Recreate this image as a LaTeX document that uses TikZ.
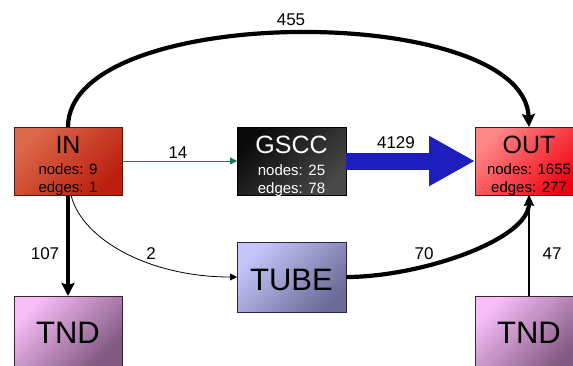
\documentclass[tikz,border=0pt]{standalone}
\usepackage{fontspec}
\setmainfont{Liberation Sans}
\usetikzlibrary{arrows.meta}

\definecolor{inA}{RGB}{220,104,74}
\definecolor{inB}{RGB}{188,30,14}
\definecolor{inE}{RGB}{90,20,10}
\definecolor{gsA}{RGB}{10,10,10}
\definecolor{gsB}{RGB}{72,72,72}
\definecolor{outA}{RGB}{255,135,135}
\definecolor{outB}{RGB}{242,0,15}
\definecolor{outE}{RGB}{110,10,10}
\definecolor{tubeA}{RGB}{198,198,252}
\definecolor{tubeB}{RGB}{108,108,152}
\definecolor{tubeE}{RGB}{40,40,70}
\definecolor{tndA}{RGB}{248,190,248}
\definecolor{tndB}{RGB}{128,88,128}
\definecolor{tndE}{RGB}{60,35,60}
\definecolor{edgeGreen}{RGB}{20,120,80}
\definecolor{edgeBlue}{RGB}{30,30,190}

\begin{document}
\begin{tikzpicture}[x=1pt,y=-1pt,
  box/.style={draw, line width=0.8pt, inner sep=0pt, outer sep=0pt,
              minimum width=108pt, minimum height=68pt},
  grad/.style 2 args={top color=#1, bottom color=#2, shading angle=45},
  bigtxt/.style={font=\fontsize{25}{25}\selectfont, anchor=base, inner sep=0pt},
  hugetxt/.style={font=\fontsize{31}{31}\selectfont, anchor=base, inner sep=0pt},
  smalltxt/.style={font=\fontsize{15}{15}\selectfont, anchor=base, inner sep=0pt},
  elabel/.style={font=\fontsize{17}{17}\selectfont, anchor=base, inner sep=0pt},
  heavy/.style={line width=4.2pt, -{Stealth[length=13pt,width=13pt,inset=2pt]}},
  light/.style={line width=0.8pt, -{Triangle[length=7pt,width=7pt]}},
]
\useasboundingbox (0,0) rectangle (573,365);

% component boxes
\node[box, draw=inE, grad={inA}{inB}] (in) at (68,161) {};
\node[box, draw=black, grad={gsA}{gsB}, minimum width=109pt] (gscc) at (291.5,161) {};
\node[box, draw=outE, grad={outA}{outB}] (out) at (529,161) {};
\node[box, draw=tubeE, grad={tubeA}{tubeB}, minimum width=109pt, minimum height=70pt] (tube) at (291.5,277) {};
\node[box, draw=tndE, grad={tndA}{tndB}, minimum height=70pt] (tndL) at (68,331) {};
\node[box, draw=tndE, grad={tndA}{tndB}, minimum height=70pt] (tndR) at (529,331) {};

% box texts
\node[bigtxt] (in-t) at (68,153) {IN};
\node[smalltxt] (in-n) at (68,174) {nodes: 9};
\node[smalltxt] (in-e) at (68,192) {edges: 1};
\node[bigtxt, text=white] (gscc-t) at (291.5,153) {GSCC};
\node[smalltxt, text=white] (gscc-n) at (291.5,175) {nodes: 25};
\node[smalltxt, text=white] (gscc-e) at (291.5,193) {edges: 78};
\node[bigtxt] (out-t) at (529,153) {OUT};
\node[smalltxt] (out-n) at (529,174) {nodes: 1655};
\node[smalltxt] (out-e) at (529,192) {edges: 277};
\node[hugetxt] (tube-t) at (291.5,290) {TUBE};
\node[hugetxt] (tndL-t) at (68,343) {TND};
\node[hugetxt] (tndR-t) at (529,343) {TND};

% connectors
\draw[heavy] (in.north) .. controls (68,2) and (524,2) .. (out.north);
\draw[light, draw=edgeGreen, fill=edgeGreen,
      -{Triangle[length=7pt,width=7pt,fill=edgeGreen]}] (in.east) -- (gscc.west);
\draw[edgeBlue, line width=17pt, -{Triangle[length=46pt,width=47pt]}] (gscc.east) -- (out.west);
\draw[heavy] (in.south) -- (tndL.north);
\draw[light] ([xshift=3pt]in.south) .. controls (82,240) and (150,277) .. (tube.west);
\draw[line width=4.2pt, -{Stealth[length=11pt,width=10pt,inset=2pt]}]
  (tube.east) .. controls (420,277) and (529,240) .. (out.south);
\draw[line width=1.4pt, -{Stealth[length=11pt,width=10pt,inset=2pt]}] (tndR.north) -- (out.south);

% connector labels
\node[elabel] (l455) at (291,25) {455};
\node[elabel] (l14) at (178,158) {14};
\node[elabel] (l4129) at (396,148) {4129};
\node[elabel] (l107) at (45,259) {107};
\node[elabel] (l2) at (151,259) {2};
\node[elabel] (l70) at (424,259) {70};
\node[elabel] (l47) at (552,259) {47};
\end{tikzpicture}
\end{document}
